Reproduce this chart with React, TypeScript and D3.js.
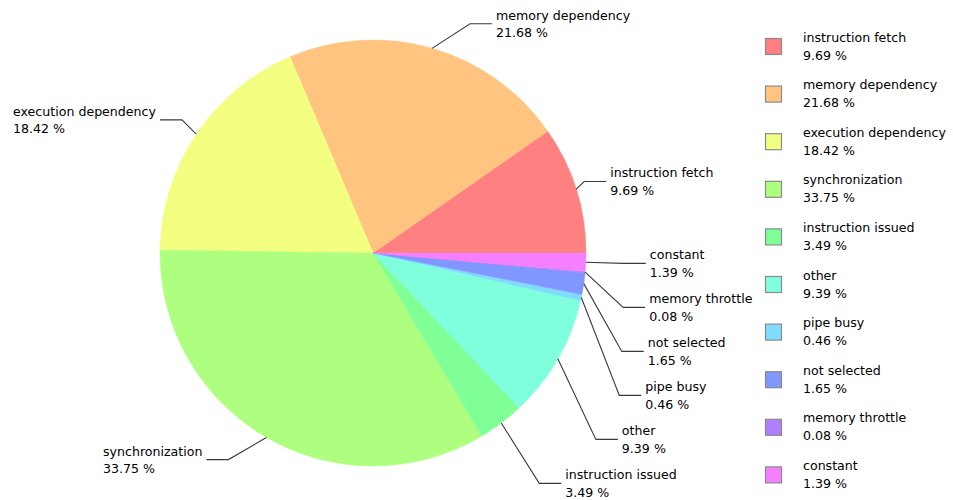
import React, { useEffect, useRef } from 'react';
import * as d3 from 'd3';

const categories = [
  'instruction fetch',
  'memory dependency',
  'execution dependency',
  'synchronization',
  'instruction issued',
  'other',
  'pipe busy',
  'not selected',
  'memory throttle',
  'constant',
];
const values = [9.69, 21.68, 18.42, 33.75, 3.49, 9.39, 0.46, 1.65, 0.08, 1.39];
const colors = ['#ff8080', '#ffc580', '#f3ff80', '#aeff80', '#80ff97', '#80ffdd', '#80dcff', '#8097ff', '#ae80ff', '#f480ff'];

const W = 953;
const H = 500;
const FONT = '"DejaVu Sans", Verdana, sans-serif';
const FS = 12.6;

type Datum = { name: string; value: number; color: string };

export default function App() {
  const ref = useRef<SVGSVGElement>(null);

  useEffect(() => {
    const data: Datum[] = categories.map((c, i) => ({ name: c, value: values[i], color: colors[i] }));
    const svg = d3.select(ref.current as SVGSVGElement);
    svg.selectAll('*').remove();

    const cx = 373, cy = 253, r = 213;
    const pie = d3
      .pie<Datum>()
      .sort(null)
      .value((d) => d.value)
      .startAngle(Math.PI / 2)
      .endAngle(Math.PI / 2 - 2 * Math.PI);
    const arcs = pie(data);
    const arc = d3.arc<d3.PieArcDatum<Datum>>().innerRadius(0).outerRadius(r);

    const g = svg.append('g').attr('transform', `translate(${cx},${cy})`);
    g.selectAll('path')
      .data(arcs)
      .join('path')
      .attr('d', arc)
      .attr('fill', (d) => d.data.color)
      .attr('stroke', (d) => d.data.color)
      .attr('stroke-width', 0.5);

    // label layout
    const rE = r * 1.12;
    const gap = 44;
    type Lab = { a: d3.PieArcDatum<Datum>; m: number; side: number; y: number };
    const labs: Lab[] = arcs.map((a) => {
      const m = (a.startAngle + a.endAngle) / 2;
      const side = Math.sin(m) >= 0 ? 1 : -1;
      return { a, m, side, y: cy - rE * Math.cos(m) };
    });
    [1, -1].forEach((s) => {
      const group = labs.filter((l) => l.side === s).sort((p, q) => p.y - q.y);
      for (let i = 1; i < group.length; i++) {
        if (group[i].y < group[i - 1].y + gap) group[i].y = group[i - 1].y + gap;
      }
    });

    const lg = svg.append('g');
    labs.forEach((l) => {
      const ex = cx + r * Math.sin(l.m);
      const ey = cy - r * Math.cos(l.m);
      const dy = l.y - ey;
      let dx = dy < 0 && Math.abs(dy) < 16 ? Math.max(8, Math.abs(dy)) : 38;
      const t = lg
        .append('text')
        .attr('font-family', FONT)
        .attr('font-size', FS)
        .attr('fill', '#000');
      const t1 = t.append('tspan').attr('y', l.y - 4).text(l.a.data.name);
      const t2 = t.append('tspan').attr('y', l.y + 13.5).text(`${l.a.data.value.toFixed(2)} %`);
      const w = Math.max(
        (t1.node() as SVGTSpanElement).getComputedTextLength(),
        (t2.node() as SVGTSpanElement).getComputedTextLength()
      );
      if (l.side < 0) {
        // keep the text block inside the canvas
        const maxDx = ex - 22 - 4 - w - 10;
        dx = Math.min(dx, Math.max(0, maxDx));
      }
      const elbowX = ex + l.side * dx;
      const endX = elbowX + l.side * 22;
      lg.append('path')
        .attr('d', d3.line()([[ex, ey], [elbowX, l.y], [endX, l.y]]))
        .attr('fill', 'none')
        .attr('stroke', '#3a3a3a')
        .attr('stroke-width', 1.1);
      const x0 = l.side > 0 ? endX + 4 : endX - 4 - w;
      t1.attr('x', x0);
      t2.attr('x', x0);
    });

    // legend
    const leg = svg.append('g');
    const step = 47.6;
    data.forEach((d, i) => {
      const top = 38 + i * step;
      leg.append('rect')
        .attr('x', 765.5)
        .attr('y', top + 0.5)
        .attr('width', 16)
        .attr('height', 16)
        .attr('fill', d.color)
        .attr('stroke', '#8a8a8a')
        .attr('stroke-width', 1.2);
      const c = top + 8.5;
      leg.append('text')
        .attr('x', 803)
        .attr('y', c - 5)
        .attr('font-family', FONT)
        .attr('font-size', FS)
        .text(d.name);
      leg.append('text')
        .attr('x', 803)
        .attr('y', c + 13)
        .attr('font-family', FONT)
        .attr('font-size', FS)
        .text(`${d.value.toFixed(2)} %`);
    });
  }, []);

  return (
    <svg
      ref={ref}
      width={W}
      height={H}
      style={{ position: 'absolute', left: 0, top: 0, background: '#fff' }}
    />
  );
}
